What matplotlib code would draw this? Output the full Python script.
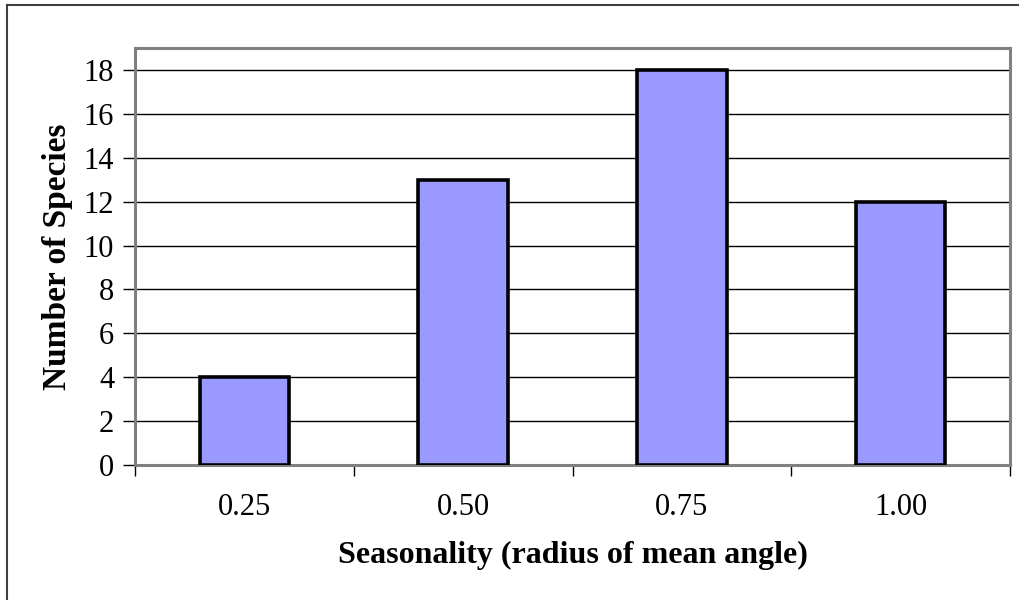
import matplotlib
matplotlib.use("Agg")
import matplotlib.pyplot as plt
from matplotlib.lines import Line2D

categories = ["0.25", "0.50", "0.75", "1.00"]
species_counts = [4, 13, 18, 12]
y_ticks = [0, 2, 4, 6, 8, 10, 12, 14, 16, 18]

plt.rcParams["font.family"] = ["Liberation Serif", "DejaVu Serif"]

W, H = 1019, 600
fig = plt.figure(figsize=(W / 100, H / 100), dpi=100)
ax = fig.add_axes([135 / W, (H - 465) / H, (1010 - 135) / W, (465 - 48) / H])

x = list(range(len(categories)))
ax.bar(x, species_counts, width=0.41, color="#9999FF", edgecolor="black",
       linewidth=2.6, zorder=3)

ax.set_xlim(-0.5, len(categories) - 0.5)
ax.set_ylim(0, 19)
ax.set_yticks(y_ticks)
ax.set_yticklabels([str(v) for v in y_ticks], fontsize=22)
ax.yaxis.grid(True, color="black", linewidth=1.0, zorder=0)
ax.set_axisbelow(True)

# category labels in the middle, tick marks on the category boundaries
ax.set_xticks(x)
ax.set_xticklabels(categories, fontsize=22)
ax.tick_params(axis="x", length=0, pad=20)
ax.set_xticks([i - 0.5 for i in range(len(categories) + 1)], minor=True)
ax.tick_params(axis="x", which="minor", length=8, width=1.0, color="black",
               direction="out")
ax.tick_params(axis="y", length=9, width=1.0, color="black", direction="out",
               pad=6)

for side in ["left", "right", "top", "bottom"]:
    ax.spines[side].set_color("#808080")
    ax.spines[side].set_linewidth(2.2)

ax.set_xlabel("Seasonality (radius of mean angle)", fontsize=23,
              fontweight="bold", labelpad=14)
ax.set_ylabel("Number of Species", fontsize=24, fontweight="bold",
              labelpad=8)

# chart area frame
fig.add_artist(Line2D([7 / W, 7 / W], [0, 1 - 5 / H], transform=fig.transFigure,
                      color="#404040", linewidth=1.5))
fig.add_artist(Line2D([7 / W, 1], [1 - 5 / H, 1 - 5 / H], transform=fig.transFigure,
                      color="#404040", linewidth=1.5))

fig.savefig("out.png", dpi=100)
